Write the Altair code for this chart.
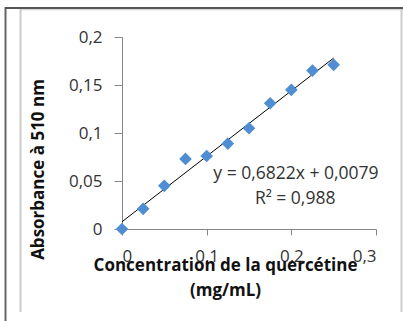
import altair as alt
import pandas as pd

conc = [0, 0.025, 0.05, 0.075, 0.1, 0.125, 0.15, 0.175, 0.2, 0.225, 0.25]
absorb = [0, 0.021, 0.045, 0.073, 0.076, 0.089, 0.105, 0.131, 0.145, 0.165, 0.171]

eq_text = ["y = 0,6822x + 0,0079", "R² = 0,988"]
eq_x = [0.2055, 0.2045]
eq_y = [0.0575, 0.031]

df = pd.DataFrame({"x": conc, "y": absorb})
ann = pd.DataFrame({"t": eq_text, "x": eq_x, "y": eq_y})

FONT = "Open Sans"
xs = alt.Scale(domain=[0, 0.3], nice=False)
ys = alt.Scale(domain=[0, 0.2], nice=False)

lab = "replace(format(datum.value, '~g'), '.', ',')"

x_axis = alt.Axis(
    values=[0, 0.1, 0.2, 0.3], labelExpr=lab, grid=False,
    domainColor="#868686", tickColor="#868686", tickSize=6,
    labelFont=FONT, labelFontSize=17, labelColor="#333",
    labelPadding=13, labelBaseline="top",
    title=["Concentration de la quercétine", "(mg/mL)"],
    titleFont=FONT, titleFontSize=17, titleFontWeight="bold", titleColor="#111",
    titleX=103, titleY=28, titleAlign="center", titleBaseline="top",
    titleLineHeight=25,
)
y_axis = alt.Axis(
    values=[0, 0.05, 0.1, 0.15, 0.2], labelExpr=lab, grid=False,
    domainColor="#868686", tickColor="#868686", tickSize=8,
    labelFont=FONT, labelFontSize=17, labelColor="#333", labelPadding=12,
    title="Absorbance à 510 nm",
    titleFont=FONT, titleFontSize=17, titleFontWeight="bold", titleColor="#111",
    titleX=-84, titleY=132, titleAngle=-90, titleAlign="center",
    titleBaseline="middle",
)

base = alt.Chart(df)

pts = base.mark_point(shape="diamond", filled=True, size=160, color="#4F8ED2", opacity=1).encode(
    x=alt.X("x:Q", scale=xs, axis=x_axis),
    y=alt.Y("y:Q", scale=ys, axis=y_axis),
)

trend = base.transform_regression("x", "y").mark_line(color="#000", strokeWidth=1).encode(
    x=alt.X("x:Q", scale=xs), y=alt.Y("y:Q", scale=ys)
)

txt = alt.Chart(ann).mark_text(font=FONT, fontSize=17.5, color="#333", align="center", baseline="middle").encode(
    x=alt.X("x:Q", scale=xs), y=alt.Y("y:Q", scale=ys), text="t:N"
)

one = alt.Data(values=[{}])
def rule(x, x2, y, y2, color, w):
    return alt.Chart(one).mark_rule(color=color, strokeWidth=w).encode(
        x=alt.value(x), x2=alt.value(x2), y=alt.value(y), y2=alt.value(y2)
    )

# frame (pixel offsets relative to plot origin at 122,37)
frame = [
    rule(5.5 - 122, 5.5 - 122, 7 - 37, 321 - 37, "#666", 2),
    rule(5 - 122, 403 - 122, 8 - 37, 8 - 37, "#555", 2),
    rule(20 - 122, 403 - 122, 9.8 - 37, 9.8 - 37, "#ccc", 1),
    rule(20.5 - 122, 20.5 - 122, 9 - 37, 312 - 37, "#ccc", 2),
    rule(401.5 - 122, 401.5 - 122, 9 - 37, 312 - 37, "#ccc", 2),
]

chart = alt.layer(trend, pts, txt, *frame).properties(
    width=254, height=192,
    autosize=alt.AutoSizeParams(type="none"),
    padding={"left": 122, "top": 37, "right": 27, "bottom": 92},
    background="white",
).configure_view(stroke=None)

chart.save("out.html", embed_options={"renderer": "svg", "actions": False})
